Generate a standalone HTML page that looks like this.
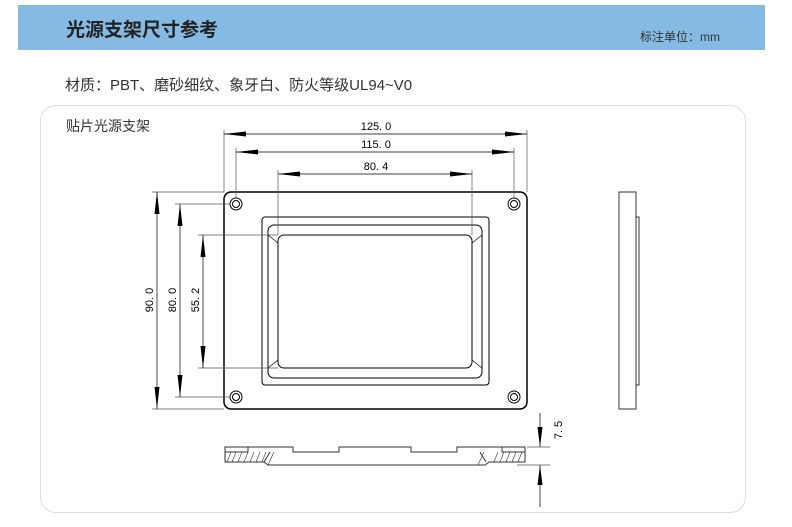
<!DOCTYPE html>
<html><head><meta charset="utf-8"><style>
body{margin:0;width:792px;height:527px;background:#fff;font-family:"Liberation Sans","Noto Sans CJK SC",sans-serif;position:relative;overflow:hidden}
.hdr{position:absolute;left:18px;top:5px;width:747px;height:45px;background:#85bbe2}
.t{position:absolute;left:66px;top:15px;font-size:19px;font-weight:bold;color:#222}
.u{position:absolute;left:640px;top:28px;font-size:12px;color:#333}
.m{position:absolute;left:65px;top:74px;font-size:15px;color:#333}
.box{position:absolute;left:40px;top:105px;width:704px;height:406px;border:1px solid #ddd;border-radius:16px}
.s{position:absolute;left:66px;top:116px;font-size:14px;color:#333}
svg{position:absolute;left:0;top:0}
</style></head><body>
<div class="hdr"></div>
<div class="t">光源支架尺寸参考</div>
<div class="u">标注单位：mm</div>
<div class="m">材质：PBT、磨砂细纹、象牙白、防火等级UL94~V0</div>
<div class="box"></div>
<div class="s">贴片光源支架</div>
<svg width="792" height="527" font-family="Liberation Sans, sans-serif" font-size="11" fill="none">
<g stroke="#000" stroke-width="1">
<rect x="224" y="192" width="303" height="217" rx="7" stroke-width="1.5"/>
<rect x="262" y="217" width="227" height="168" rx="3"/>
<rect x="268" y="225" width="214" height="153" rx="6"/>
<rect x="278" y="235" width="194" height="133" rx="6"/>
<path d="M268,235 L278,243 M482,235 L472,243 M268,368 L278,360 M482,368 L472,360" stroke-width=".7"/>
<g><circle cx="236" cy="204" r="6"/><circle cx="236" cy="204" r="3.5"/><circle cx="514" cy="204" r="6"/><circle cx="514" cy="204" r="3.5"/><circle cx="236" cy="397" r="6"/><circle cx="236" cy="397" r="3.5"/><circle cx="514" cy="397" r="6"/><circle cx="514" cy="397" r="3.5"/></g>
</g>
<g stroke="#555" stroke-width=".7">
<path d="M224,130V192M527,130V192M236,148V198M514,148V198M278,170V235M472,170V235"/>
<path d="M152,192H224M175,204H230M198,235H278M152,409H224M175,397H230M198,368H278"/>
<path d="M224,134H527M236,152H514M278,174H472M157,192V409M180,204V397M203,235V368" stroke="#000"/>
</g>
<g fill="#000">
<polygon points="224,134 246,131.5 246,136.5"/><polygon points="527,134 505,131.5 505,136.5"/>
<polygon points="236,152 258,149.5 258,154.5"/><polygon points="514,152 492,149.5 492,154.5"/>
<polygon points="278,174 300,171.5 300,176.5"/><polygon points="472,174 450,171.5 450,176.5"/>
<polygon points="157,192 154.5,214 159.5,214"/><polygon points="157,409 154.5,387 159.5,387"/>
<polygon points="180,204 177.5,226 182.5,226"/><polygon points="180,397 177.5,375 182.5,375"/>
<polygon points="203,235 200.5,257 205.5,257"/><polygon points="203,368 200.5,346 205.5,346"/>
<polygon points="540,447 537.5,427 542.5,427"/><polygon points="540,465 537.5,485 542.5,485"/>
</g>
<g fill="#000" text-anchor="middle">
<text x="376" y="130">125. 0</text><text x="376" y="148">115. 0</text><text x="376" y="170">80. 4</text>
<text transform="translate(153,300) rotate(-90)">90. 0</text>
<text transform="translate(176,300) rotate(-90)">80. 0</text>
<text transform="translate(199,300) rotate(-90)">55. 2</text>
<text transform="translate(562,430) rotate(-90)">7. 5</text>
</g>
<g stroke="#333" stroke-width="1">
<rect x="619" y="192" width="17" height="217"/>
<rect x="636" y="217" width="3" height="168"/>
<path d="M225,447H293V452H339V447H411V452H457V447H525V462H489L485,465H268L264,462H225Z"/>
<path d="M248,447V452H225M502,447V452H525M270,452L264,462M480,452L486,462"/>
<path d="M227,462L231,452M232,462L236,452M238,462L242,452M244,462L248,452M250,462L254,452M256,462L260,452M262,462L266,452M268,465L274,452M494,462L498,452M500,462L504,452M506,462L510,452M512,462L516,452M518,462L522,452M478,465L484,452" stroke-width=".6"/>
</g>
<g stroke="#555" stroke-width=".7">
<path d="M527,447H550M517,465H550"/>
<path d="M540,413V447M540,507V465" stroke="#000"/>
</g>
</svg>
</body></html>
